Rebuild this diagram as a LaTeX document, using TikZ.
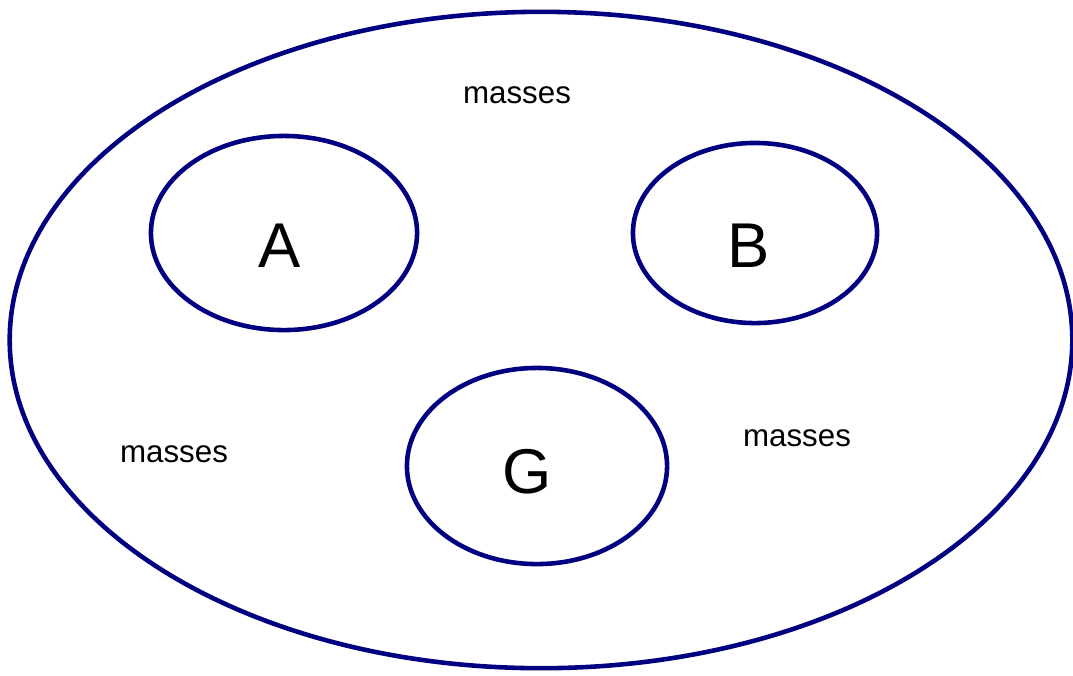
\documentclass[tikz,border=0pt]{standalone}
\usepackage{fontspec}
\setmainfont{Liberation Sans}
\usetikzlibrary{shapes.geometric}
\definecolor{setblue}{RGB}{0,0,128}

\begin{document}
\begin{tikzpicture}[x=0.01cm, y=-0.01cm,
  set/.style={ellipse, draw=setblue, line width=1.3pt, inner sep=0pt},
  label/.style={font=\fontsize{18}{20}\selectfont},
  mass/.style={font=\fontsize{8.9}{10}\selectfont}]
\useasboundingbox (0,0) rectangle (1073,675);
% outer set and the three subsets
\node[set, minimum width=10.62cm, minimum height=6.56cm] (all) at (541,340) {};
\node[set, minimum width=2.66cm, minimum height=1.94cm] (setA) at (284,233) {};
\node[set, minimum width=2.44cm, minimum height=1.80cm] (setB) at (755,233) {};
\node[set, minimum width=2.60cm, minimum height=1.96cm] (setG) at (537,466) {};
\node[label] (nameA) at (280,246) {A};
\node[label] (nameB) at (749,246) {B};
\node[label] (nameG) at (527,472) {G};
% remaining masses
\node[mass] (top) at (517,95) {masses};
\node[mass] (left) at (174,454) {masses};
\node[mass] (right) at (797,438) {masses};
\end{tikzpicture}
\end{document}
